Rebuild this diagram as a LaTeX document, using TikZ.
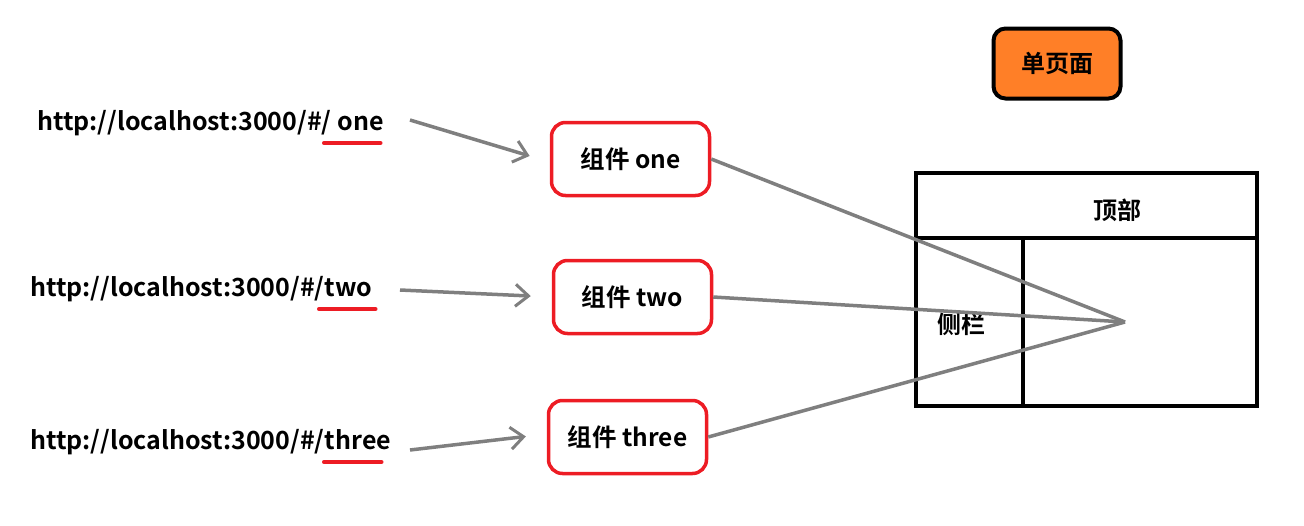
\documentclass[tikz,border=0pt]{standalone}
\usepackage{fontspec}
\setmainfont{Noto Sans CJK SC}[BoldFont={* Bold}]
\usepackage{tikz}
\usetikzlibrary{arrows.meta,positioning}

\definecolor{boxred}{RGB}{237,28,36}
\definecolor{pageorange}{RGB}{255,127,39}
\definecolor{linegray}{RGB}{127,127,127}

\tikzset{
  url/.style={inner sep=0pt, font=\fontsize{25}{28}\selectfont\bfseries},
  comp/.style={draw=boxred, line width=3.5pt, rounded corners=14pt, minimum width=158pt, minimum height=73pt, font=\fontsize{24.5}{28}\selectfont\bfseries},
  route/.style={linegray, line width=3.5pt, -{Straight Barb[length=13pt,width=22pt,line width=3pt]}, shorten >=21pt},
  link/.style={linegray, line width=3.5pt},
  redline/.style={boxred, line width=3.5pt, line cap=round},
  part/.style={draw, line width=4pt},
  tag/.style={font=\fontsize{24}{28}\selectfont\bfseries}
}

\begin{document}
\begin{tikzpicture}[x=1pt,y=-1pt]
\useasboundingbox (0,0) rectangle (1304,525);

% urls
\node[url, anchor=base west] (p1) at (37,130) {http://localhost:3000/\#/};
\node[url, anchor=base west] (w1) at (p1.base east) {\ one};
\node[url, anchor=base west] (p2) at (30,296) {http://localhost:3000/\#/};
\node[url, anchor=base west] (w2) at (p2.base east) {two};
\node[url, anchor=base west] (p3) at (30,449) {http://localhost:3000/\#/};
\node[url, anchor=base west] (w3) at (p3.base east) {three};

\draw[redline] ([xshift=-8pt,yshift=-13pt]w1.base west) -- ++(57,0);
\draw[redline] ([xshift=-6pt,yshift=-13pt]w2.base west) -- ++(57,0);
\draw[redline] ([xshift=-1pt,yshift=-13pt]w3.base west) -- ++(58,0);

% components
\node[comp] (c1) at (630.5,159) {组件 one};
\node[comp] (c2) at (632.5,297) {组件 two};
\node[comp] (c3) at (627.5,437) {组件 three};

\coordinate (s1) at (410,120);
\coordinate (s2) at (400,290);
\coordinate (s3) at (410,450);
\draw[route] (s1) -- ([yshift=-3pt]c1.west);
\draw[route] (s2) -- (c2.west);
\draw[route] (s3) -- ([yshift=3pt]c3.west);

% single page
\node[part, fill=pageorange, rounded corners=12pt, minimum width=127pt, minimum height=70pt] (page) at (1057,63.5) {};
\node[tag] (pagetxt) at (page) {单页面};

\node[part, minimum width=341pt, minimum height=65pt] (top) at (1086.5,205.5) {};
\node[part, minimum width=107pt, minimum height=168pt] (side) at (969.5,322) {};
\node[part, minimum width=234pt, minimum height=168pt] (main) at (1140,322) {};
\node[tag] (toptxt) at (1117,210) {顶部};
\node[tag] (sidetxt) at (961,324) {侧栏};

\coordinate (hub) at (1125,322);
\draw[link] (c1.east) -- (hub);
\draw[link] (c2.east) -- (hub);
\draw[link] (c3.east) -- (hub);

\end{tikzpicture}
\end{document}
